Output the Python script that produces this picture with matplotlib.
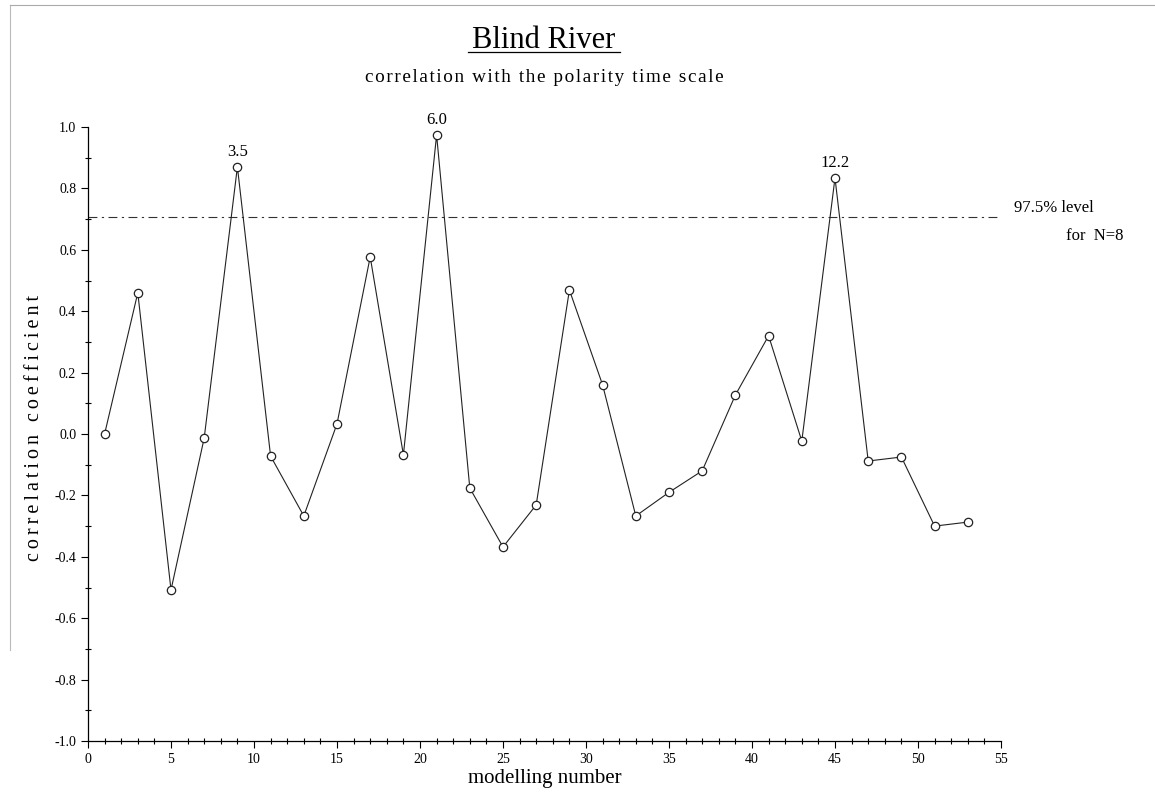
import matplotlib
matplotlib.use('Agg')
from matplotlib import pyplot as plt
from matplotlib.ticker import MultipleLocator
from matplotlib.lines import Line2D

# modelling numbers and correlation coefficients
numero = [1, 3, 5, 7, 9, 11, 13, 15, 17, 19, 21, 23, 25, 27,
          29, 31, 33, 35, 37, 39, 41, 43, 45, 47, 49, 51, 53]
correl = [0.0, 0.46, -0.508, -0.013, 0.87, -0.072, -0.267, 0.033, 0.577, -0.068,
          0.974, -0.176, -0.368, -0.231, 0.469, 0.16, -0.267, -0.19, -0.12, 0.127,
          0.32, -0.023, 0.834, -0.088, -0.075, -0.30, -0.287]

# pics annotés
pics_x = [9, 21, 45]
pics_txt = ['3.5', '6.0', '12.2']

niveau = 0.707  # 97.5% level for N=8

serif = ['Liberation Serif', 'DejaVu Serif']


def espace(txt, sep='\u200a'):
    '''espacement des lettres comme sur le traceur'''
    return sep.join(txt)


fig = plt.figure(figsize=(11.55, 8.02), dpi=100)
ax = fig.add_axes([88/1155, 1-741/802, (1001-88)/1155, (741-127)/802])

ax.plot(numero, correl, color='#222222', lw=0.8, marker='o', ms=6,
        mfc='white', mec='#222222', mew=0.9, zorder=3)

for xp, txt in zip(pics_x, pics_txt):
    yp = correl[numero.index(xp)]
    ax.annotate(txt, (xp, yp), xytext=(0, 5), textcoords='offset points',
                ha='center', va='bottom', fontsize=12, family=serif)

ax.plot([0, 55], [niveau, niveau], color='#333333', lw=0.8,
        ls=(0, (8, 4, 2, 4)), clip_on=False, zorder=2)
ax.text(55.8, 0.736, '97.5% level', fontsize=12, family=serif,
        ha='left', va='center')
ax.text(62.4, 0.645, 'for  N=8', fontsize=12, family=serif,
        ha='right', va='center')

ax.set_xlim(0, 55)
ax.set_ylim(-1.0, 1.0)
ax.xaxis.set_major_locator(MultipleLocator(5))
ax.xaxis.set_minor_locator(MultipleLocator(1))
ax.yaxis.set_major_locator(MultipleLocator(0.2))
ax.yaxis.set_minor_locator(MultipleLocator(0.1))
ax.set_yticklabels([f'{v:.1f}' for v in ax.get_yticks()])
ax.tick_params(which='major', direction='out', length=5, width=0.8,
               labelsize=10)
ax.tick_params(which='minor', direction='inout', length=4, width=0.8)
for lab in ax.get_xticklabels() + ax.get_yticklabels():
    lab.set_family(serif)

for s in ['top', 'right']:
    ax.spines[s].set_visible(False)
for s in ['left', 'bottom']:
    ax.spines[s].set_linewidth(0.9)

ax.set_xlabel('modelling number', fontsize=15, family=serif, labelpad=2)
fig.text(35/1155, 1-428/802, espace('correlation coefficient', '\u2009'),
         fontsize=14.5, family=serif, rotation=90, ha='center', va='center')

fig.text(544/1155, 1-40/802, 'Blind River', fontsize=22, family=serif,
         ha='center', va='center')
fig.add_artist(Line2D([468/1155, 620/1155], [1-52/802, 1-52/802],
                      color='black', lw=0.9))
fig.text(544/1155, 1-77/802, espace('correlation with the polarity time scale'),
         fontsize=13.8, family=serif, ha='center', va='center')

# bord de la feuille scannée
fig.add_artist(Line2D([10/1155, 10/1155], [1-650/802, 1-5/802],
                      color='#bbbbbb', lw=0.8))
fig.add_artist(Line2D([10/1155, 1], [1-5/802, 1-5/802],
                      color='#aaaaaa', lw=0.8))

fig.savefig('out.png', dpi=100)
